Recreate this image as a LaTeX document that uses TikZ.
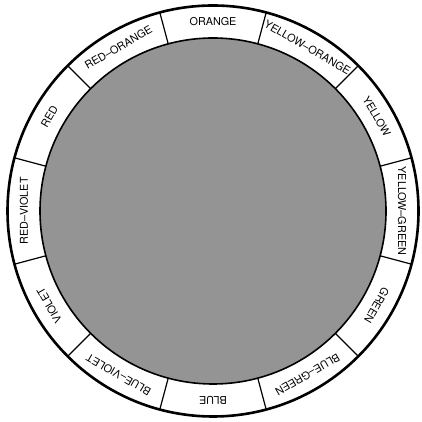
\documentclass[tikz,border=0pt]{standalone}
\usepackage{fontspec}
\setsansfont{TeX Gyre Heros}
\usepackage{tikz}
\usetikzlibrary{calc}
\definecolor{Dots}{gray}{0.58}

\begin{document}
\begin{tikzpicture}[x=1pt, y=1pt, every node/.style={font=\sffamily\fontsize{10.8}{12}\selectfont, inner sep=0pt}]
  \useasboundingbox (0,0) rectangle (422,422);
  \coordinate (c) at (213,211);
  % shaded middle and the two rims
  \fill[Dots] (c) circle (173);
  \draw[line width=1.6pt] (c) circle (173);
  \draw[line width=2.6pt] (c) circle (205.5);
  % dividers between the twelve hues
  \foreach \a in {15,45,...,345}
    \draw[line width=1.2pt] ($(c)+(\a:173)$) -- ($(c)+(\a:205)$);
  % hue names, counterclockwise from the top
  \foreach \hue [count=\i from 0] in {ORANGE,RED--ORANGE,RED,RED--VIOLET,VIOLET,BLUE--VIOLET,BLUE,BLUE--GREEN,GREEN,YELLOW--GREEN,YELLOW,YELLOW--ORANGE}
    \node[rotate=30*\i] (hue\i) at ($(c)+(90+30*\i:189)$) {\hue};
\end{tikzpicture}
\end{document}
